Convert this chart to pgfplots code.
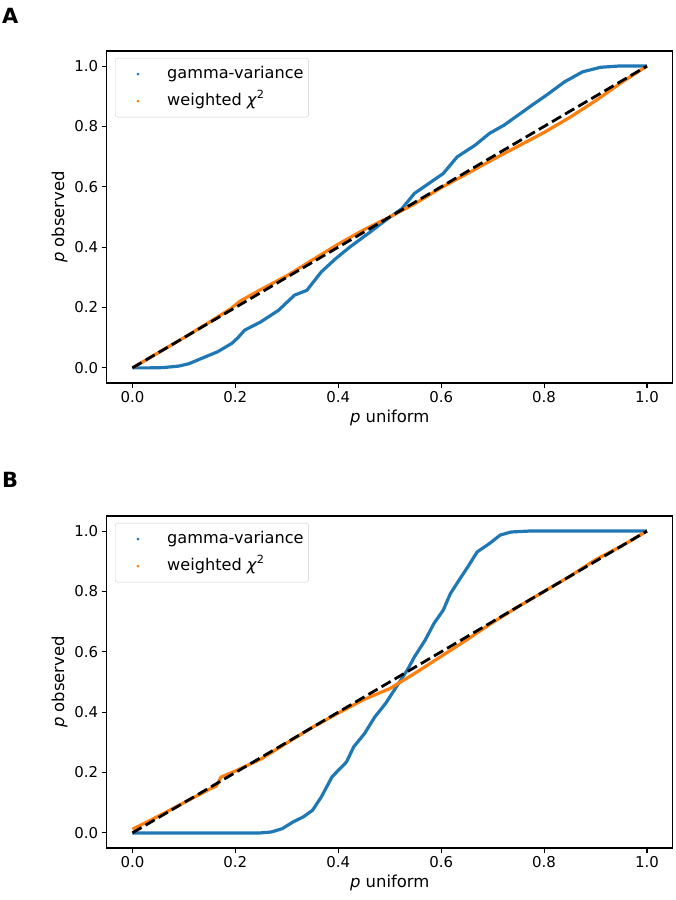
\documentclass[border=0pt]{standalone}
\usepackage{pgfplots}
\pgfplotsset{compat=1.18}
\usepackage{fontspec}
\setmainfont{DejaVu Sans}
\definecolor{c0}{HTML}{1F77B4}
\definecolor{c1}{HTML}{FF7F0E}

\pgfplotstableread{
x y
0 0
0.03 0
0.06 0.001
0.09 0.006
0.11 0.014
0.145 0.039
0.165 0.053
0.193 0.081
0.205 0.100
0.218 0.125
0.249 0.152
0.284 0.191
0.315 0.241
0.339 0.257
0.367 0.318
0.395 0.362
0.423 0.401
0.458 0.445
0.492 0.489
0.524 0.528
0.548 0.578
0.576 0.611
0.604 0.644
0.631 0.699
0.666 0.738
0.694 0.777
0.722 0.804
0.750 0.838
0.777 0.871
0.805 0.904
0.840 0.948
0.875 0.981
0.910 0.996
0.944 1.0
1 1
}\blueA

\pgfplotstableread{
x y
0 0
0.05 0.05
0.1 0.1
0.15 0.152
0.19 0.195
0.21 0.222
0.25 0.26
0.3 0.305
0.35 0.358
0.4 0.41
0.45 0.458
0.5 0.5
0.55 0.545
0.6 0.597
0.65 0.643
0.7 0.69
0.75 0.735
0.8 0.78
0.85 0.83
0.9 0.885
0.95 0.945
1 1
}\orangeA

\pgfplotstableread{
x y
0 0
0.1 0
0.2 0
0.249 0.0
0.27 0.003
0.291 0.014
0.312 0.036
0.332 0.053
0.35 0.075
0.367 0.119
0.388 0.186
0.416 0.235
0.43 0.285
0.451 0.329
0.471 0.384
0.492 0.429
0.513 0.484
0.534 0.539
0.548 0.583
0.569 0.639
0.586 0.694
0.604 0.738
0.618 0.793
0.635 0.838
0.652 0.882
0.670 0.931
0.694 0.959
0.715 0.987
0.736 0.997
0.77 1
1 1
}\blueB

\pgfplotstableread{
x y
0 0.012
0.05 0.055
0.1 0.1
0.15 0.145
0.163 0.155
0.172 0.185
0.2 0.205
0.25 0.245
0.3 0.298
0.35 0.35
0.4 0.397
0.45 0.442
0.5 0.478
0.55 0.53
0.6 0.585
0.65 0.64
0.7 0.697
0.75 0.75
0.8 0.8
0.85 0.85
0.9 0.905
0.95 0.95
1 1
}\orangeB

\pgfplotsset{
  ppstyle/.style={
    scale only axis, width=566bp, height=332bp,
    xmin=-0.05, xmax=1.05, ymin=-0.05, ymax=1.05,
    xtick={0,0.2,0.4,0.6,0.8,1}, ytick={0,0.2,0.4,0.6,0.8,1},
    tick align=outside, xtick pos=bottom, ytick pos=left,
    major tick length=5bp,
    tick style={black, line width=1.1bp},
    axis line style={line width=1.1bp},
    /pgf/number format/assume math mode=true,
    /pgf/number format/.cd, fixed, fixed zerofill, precision=1, /pgfplots/.cd,
    ticklabel style={font=\fontsize{15}{18}\selectfont},
    label style={font=\fontsize{16.5}{20}\selectfont},
    xlabel={\textit{p} uniform}, ylabel={\textit{p} observed},
    legend cell align=left,
    legend style={at={(0.0147,0.979)}, anchor=north west,
      draw=black!20, rounded corners=2.5bp, fill=white,
      font=\fontsize{16.2}{19}\selectfont,
      inner xsep=3bp, inner ysep=6bp, row sep=7bp,
      nodes={inner xsep=2bp, inner ysep=2bp, text height=12bp, text depth=4bp}},
  },
  bluedot/.style={legend image code/.code={\path[draw=none,fill=none] (0bp,-4bp) rectangle (47bp,4bp); \fill[c0,draw=none] (19.7bp,0bp) circle (1.5bp);}},
  orangedot/.style={legend image code/.code={\path[draw=none,fill=none] (0bp,-4bp) rectangle (47bp,4bp); \fill[c1,draw=none] (19.7bp,0bp) circle (1.5bp);}},
}

\begin{document}
\begin{tikzpicture}[x=1bp,y=1bp]
\useasboundingbox (0,0) rectangle (676,900);

\begin{axis}[ppstyle, at={(106.7bp,517bp)}, anchor=south west]
\addlegendimage{bluedot}
\addlegendentry{gamma-variance}
\addlegendimage{orangedot}
\addlegendentry{weighted \textit{χ}\textsuperscript{2}}
\addplot[forget plot, c0, line width=3.2bp, line join=round] table[x=x,y=y] {\blueA};
\addplot[forget plot, c1, line width=3.2bp, line join=round] table[x=x,y=y] {\orangeA};
\addplot[forget plot, black, line width=2.8bp, dash pattern=on 10.6bp off 4.6bp] coordinates {(0,0) (1,1)};
\end{axis}

\begin{axis}[ppstyle, at={(106.7bp,52bp)}, anchor=south west]
\addlegendimage{bluedot}
\addlegendentry{gamma-variance}
\addlegendimage{orangedot}
\addlegendentry{weighted \textit{χ}\textsuperscript{2}}
\addplot[forget plot, c0, line width=3.2bp, line join=round] table[x=x,y=y] {\blueB};
\addplot[forget plot, c1, line width=3.2bp, line join=round] table[x=x,y=y] {\orangeB};
\addplot[forget plot, black, line width=2.8bp, dash pattern=on 10.6bp off 4.6bp] coordinates {(0,0) (1,1)};
\end{axis}

\node[anchor=north west, inner sep=0pt, font=\bfseries\fontsize{21}{23}\selectfont] at (2bp,892bp) {A};
\node[anchor=north west, inner sep=0pt, font=\bfseries\fontsize{21}{23}\selectfont] at (2bp,428bp) {B};
\end{tikzpicture}
\end{document}
